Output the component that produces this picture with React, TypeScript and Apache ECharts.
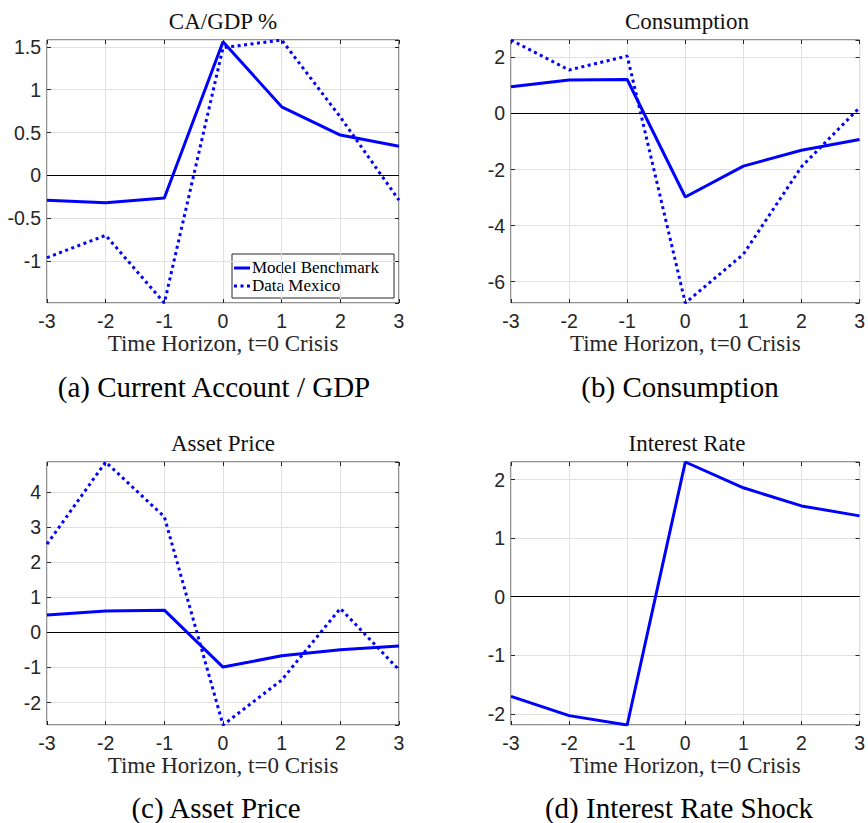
import React, { useEffect, useRef } from "react";
import * as echarts from "echarts";

// Event window around the crisis (t = 0)
const horizon = [-3, -2, -1, 0, 1, 2, 3];

// Current account / GDP, %
const caModel = [-0.29, -0.32, -0.265, 1.56, 0.8, 0.47, 0.34];
const caData = [-0.96, -0.7, -1.49, 1.49, 1.58, 0.68, -0.29];

// Consumption
const consModel = [0.95, 1.19, 1.21, -2.98, -1.88, -1.31, -0.93];
const consData = [2.62, 1.55, 2.05, -6.76, -5.02, -1.9, 0.21];

// Asset price
const assetModel = [0.49, 0.61, 0.63, -0.99, -0.67, -0.5, -0.39];
const assetData = [2.51, 4.85, 3.29, -2.64, -1.36, 0.68, -1.07];

// Interest rate shock (model only)
const rateModel = [-1.7, -2.03, -2.19, 2.3, 1.86, 1.55, 1.38];

const seriesNames = ["Model Benchmark", "Data Mexico"];
const xAxisName = "Time Horizon, t=0 Crisis";

const panels = [
  { title: "CA/GDP %", caption: "(a) Current Account / GDP", model: caModel, data: caData, step: 0.5 },
  { title: "Consumption", caption: "(b) Consumption", model: consModel, data: consData, step: 2 },
  { title: "Asset Price", caption: "(c) Asset Price", model: assetModel, data: assetData, step: 1 },
  { title: "Interest Rate", caption: "(d) Interest Rate Shock", model: rateModel, data: null as number[] | null, step: 1 },
];

// Placement of each subplot on the page
const frames = [
  { left: 47, top: 40, captionX: 214, captionY: 387 },
  { left: 511, top: 40, captionX: 680, captionY: 387 },
  { left: 47, top: 462, captionX: 216, captionY: 808 },
  { left: 511, top: 462, captionX: 679, captionY: 808 },
];
const plotW = 352;
const plotH = 263;

// Legend box inside the first subplot
const legendBox = { x: 232, y: 254, w: 162, h: 44 };

const serif = "Liberation Serif";
const sans = "Liberation Sans";
const ink = "#262626";
const blue = "#0000ff";
const dots = [3, 3.5];

function buildOption() {
  const grid: any[] = [];
  const xAxis: any[] = [];
  const yAxis: any[] = [];
  const series: any[] = [];
  const graphic: any[] = [];

  panels.forEach((p, i) => {
    const f = frames[i];
    grid.push({
      left: f.left,
      top: f.top,
      width: plotW,
      height: plotH,
      show: true,
      borderColor: ink,
      borderWidth: 1,
      backgroundColor: "#fff",
    });

    const values = p.data ? p.model.concat(p.data) : p.model.slice();
    const yMin = Math.min(...values);
    const yMax = Math.max(...values);

    const tick = { show: true, inside: true, length: 4, lineStyle: { color: ink, width: 1 } };
    const hiddenLine = { show: false, onZero: false };

    xAxis.push({
      type: "value",
      gridIndex: i,
      min: -3,
      max: 3,
      interval: 1,
      position: "bottom",
      axisLine: hiddenLine,
      axisTick: tick,
      axisLabel: { color: ink, fontFamily: sans, fontSize: 19.5, margin: 8 },
      splitLine: { show: true, lineStyle: { color: "#e0e0e0", width: 1 } },
      name: xAxisName,
      nameLocation: "middle",
      nameGap: 29,
      nameTextStyle: { color: ink, fontFamily: serif, fontSize: 23 },
    });
    xAxis.push({
      type: "value",
      gridIndex: i,
      min: -3,
      max: 3,
      interval: 1,
      position: "top",
      axisLine: hiddenLine,
      axisTick: tick,
      axisLabel: { show: false },
      splitLine: { show: false },
    });

    const yCommon = {
      type: "value",
      gridIndex: i,
      min: yMin,
      max: yMax,
      minInterval: p.step,
      maxInterval: p.step,
      splitNumber: 6,
      axisLine: hiddenLine,
      axisTick: tick,
    };
    yAxis.push({
      ...yCommon,
      position: "left",
      axisLabel: {
        color: ink,
        fontFamily: sans,
        fontSize: 19.5,
        margin: 6,
        showMinLabel: false,
        showMaxLabel: false,
      },
      splitLine: { show: true, lineStyle: { color: "#e0e0e0", width: 1 } },
    });
    yAxis.push({
      ...yCommon,
      position: "right",
      axisLabel: { show: false },
      splitLine: { show: false },
    });

    series.push({
      type: "line",
      name: seriesNames[0],
      xAxisIndex: 2 * i,
      yAxisIndex: 2 * i,
      data: horizon.map((t, k) => [t, p.model[k]]),
      symbol: "none",
      lineStyle: { color: blue, width: 3 },
      itemStyle: { color: blue },
      z: 3,
      markLine: {
        silent: true,
        symbol: "none",
        z: 1,
        label: { show: false },
        lineStyle: { color: "#000", width: 1, type: "solid" },
        data: [{ yAxis: 0 }],
      },
    });
    if (p.data) {
      series.push({
        type: "line",
        name: seriesNames[1],
        xAxisIndex: 2 * i,
        yAxisIndex: 2 * i,
        data: horizon.map((t, k) => [t, (p.data as number[])[k]]),
        symbol: "none",
        lineStyle: { color: blue, width: 3, type: dots, cap: "butt" },
        itemStyle: { color: blue },
        z: 3,
      });
    }

    graphic.push({
      type: "text",
      x: f.left + plotW / 2,
      y: f.top - 19,
      style: {
        text: p.title,
        align: "center",
        verticalAlign: "middle",
        fontFamily: serif,
        fontSize: 23,
        fill: "#111",
      },
    });
    graphic.push({
      type: "text",
      x: f.captionX,
      y: f.captionY,
      style: {
        text: p.caption,
        align: "center",
        verticalAlign: "middle",
        fontFamily: serif,
        fontSize: 29,
        lineHeight: 29,
        fill: "#000",
      },
    });
  });

  // Legend: framed box with line samples, as in the first subplot
  const lb = legendBox;
  const rowY = [lb.y + 13, lb.y + 31];
  const legendText = (text: string, y: number) => ({
    type: "text",
    x: lb.x + 20,
    y,
    style: {
      text,
      verticalAlign: "middle",
      fontFamily: serif,
      fontSize: 17,
      lineHeight: 17,
      fill: "#000",
    },
  });
  graphic.push({
    type: "group",
    z: 10,
    children: [
      {
        type: "rect",
        shape: { x: lb.x, y: lb.y, width: lb.w, height: lb.h },
        style: { fill: "#fff", stroke: ink, lineWidth: 1 },
      },
      {
        type: "line",
        shape: { x1: lb.x + 2, y1: rowY[0] + 1, x2: lb.x + 18, y2: rowY[0] + 1 },
        style: { stroke: blue, lineWidth: 3 },
      },
      {
        type: "line",
        shape: { x1: lb.x + 2, y1: rowY[1] + 1, x2: lb.x + 18, y2: rowY[1] + 1 },
        style: { stroke: blue, lineWidth: 3, lineDash: dots },
      },
      legendText(seriesNames[0], rowY[0]),
      legendText(seriesNames[1], rowY[1]),
    ],
  });

  return {
    animation: false,
    backgroundColor: "#fff",
    grid,
    xAxis,
    yAxis,
    series,
    graphic,
  };
}

export default function App() {
  const ref = useRef<HTMLDivElement>(null);

  useEffect(() => {
    if (!ref.current) return;
    const chart = echarts.init(ref.current, undefined, { renderer: "svg" });
    chart.setOption(buildOption() as any);
    return () => chart.dispose();
  }, []);

  return (
    <div
      ref={ref}
      style={{ position: "absolute", left: 0, top: 0, width: 868, height: 823, background: "#fff" }}
    />
  );
}
